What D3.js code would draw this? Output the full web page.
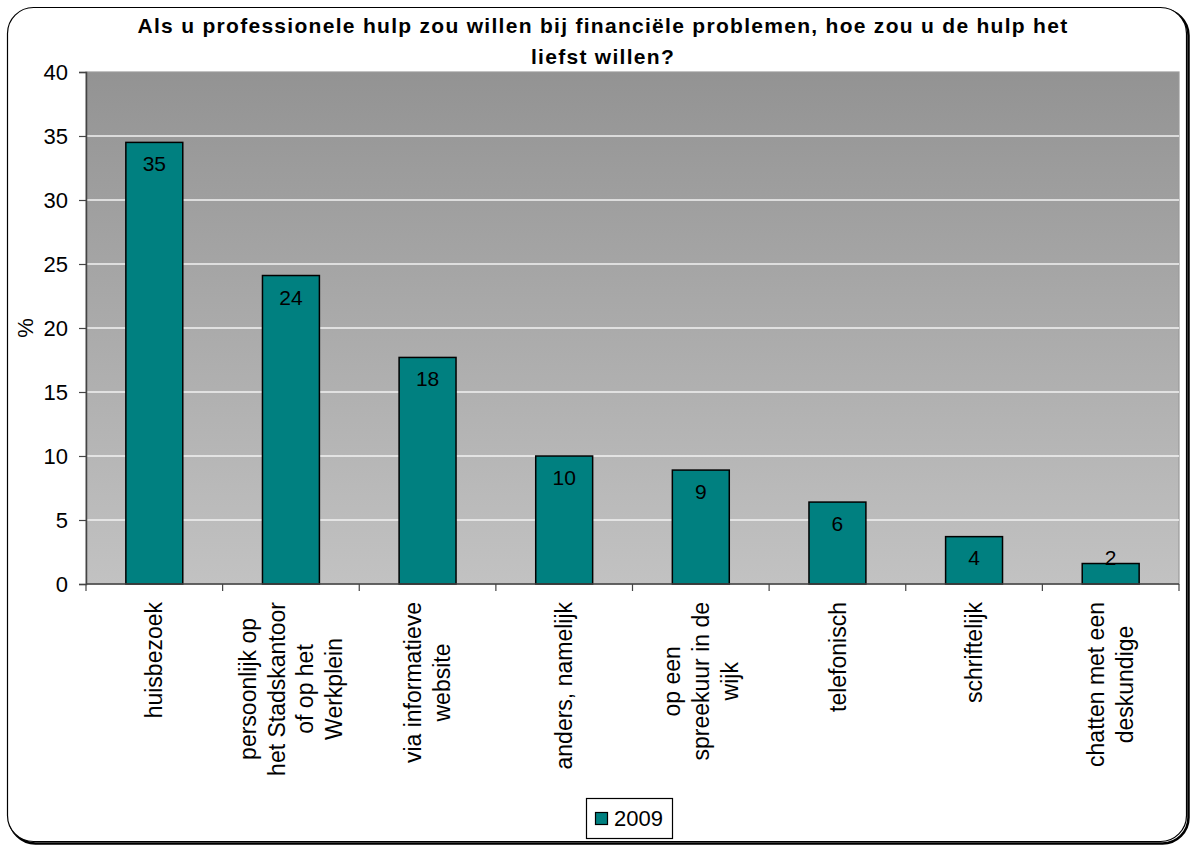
<!DOCTYPE html>
<html>
<head>
<meta charset="utf-8">
<script src="https://cdn.jsdelivr.net/npm/d3@7"></script>
<style>
  body { margin: 0; background: #fff; }
  text { font-family: "Liberation Sans", Arial, sans-serif; fill: #000; }
</style>
</head>
<body>
<div id="chart"></div>
<script>
// data
const categories = [
  "huisbezoek",
  "persoonlijk op\nhet Stadskantoor\nof op het\nWerkplein",
  "via informatieve\nwebsite",
  "anders, namelijk",
  "op een\nspreekuur in de\nwijk",
  "telefonisch",
  "schriftelijk",
  "chatten met een\ndeskundige"
];
const values2009 = [34.5, 24.1, 17.7, 10.0, 8.9, 6.4, 3.7, 1.6];
const yTicks = [0, 5, 10, 15, 20, 25, 30, 35, 40];
const seriesName = "2009";
const titleLines = ["Als u professionele hulp zou willen bij financiële problemen, hoe zou u de hulp het", "liefst willen?"];

const width = 1194, height = 846;
const plot = {left: 86, right: 1179, top: 72, bottom: 584};

let svg = d3.select("#chart")
    .append("svg")
    .attr("width", width)
    .attr("height", height);

// background gradient of plot area
let defs = svg.append("defs");
let grad = defs.append("linearGradient")
    .attr("id", "bg")
    .attr("x1", 0).attr("y1", 0).attr("x2", 0).attr("y2", 1);
grad.append("stop").attr("offset", "0%").attr("stop-color", "#939393");
grad.append("stop").attr("offset", "100%").attr("stop-color", "#c2c2c2");

// outer frame with shadow
svg.append("rect")
    .attr("x", 9.5).attr("y", 9.5)
    .attr("width", 1179).attr("height", 834)
    .attr("rx", 26)
    .attr("fill", "none")
    .attr("stroke", "#000")
    .attr("stroke-width", 2.5);
svg.append("rect")
    .attr("x", 7.5).attr("y", 7.5)
    .attr("width", 1179).attr("height", 834)
    .attr("rx", 26)
    .attr("fill", "#fff")
    .attr("stroke", "#000")
    .attr("stroke-width", 1.2);

let x = d3.scaleBand()
    .domain(categories)
    .range([plot.left, plot.right])
    .paddingInner(0)
    .paddingOuter(0);

let y = d3.scaleLinear()
    .domain([0, 40])
    .range([plot.bottom, plot.top]);

// plot area
svg.append("rect")
    .attr("x", plot.left).attr("y", plot.top)
    .attr("width", plot.right - plot.left)
    .attr("height", plot.bottom - plot.top)
    .attr("fill", "url(#bg)")
    .attr("stroke", "#9a9a9a")
    .attr("stroke-width", 1.2);

// gridlines
svg.append("g")
    .selectAll("line")
    .data(yTicks.filter(d => d > 0 && d < 40))
    .enter()
    .append("line")
    .attr("x1", plot.left).attr("x2", plot.right)
    .attr("y1", d => y(d)).attr("y2", d => y(d))
    .attr("stroke", "#f2f2f2")
    .attr("stroke-width", 1.5);

// bars
let barW = x.bandwidth() / 2.4;
svg.append("g")
    .selectAll("rect")
    .data(values2009)
    .enter()
    .append("rect")
    .attr("x", (d, i) => x(categories[i]) + (x.bandwidth() - barW) / 2)
    .attr("y", d => y(d))
    .attr("width", barW)
    .attr("height", d => y(0) - y(d))
    .attr("fill", "#008080")
    .attr("stroke", "#000")
    .attr("stroke-width", 1.5);

// data labels
svg.append("g")
    .selectAll("text")
    .data(values2009)
    .enter()
    .append("text")
    .attr("x", (d, i) => x(categories[i]) + x.bandwidth() / 2)
    .attr("y", d => Math.min(y(d) + 29, y(0) - 19))
    .style("text-anchor", "middle")
    .style("font-size", "21px")
    .text(d => Math.round(d));

// y axis
let yAxis = svg.append("g")
    .attr("transform", `translate(${plot.left}, 0)`)
    .call(d3.axisLeft(y).tickValues(yTicks).tickSize(7).tickPadding(11));
yAxis.select(".domain").attr("stroke", "#444").attr("stroke-width", 1.5);
yAxis.selectAll(".tick line").attr("stroke", "#444").attr("stroke-width", 1.2);
yAxis.selectAll(".tick text")
    .style("font-size", "22px")
    .style("font-family", "Liberation Sans, Arial, sans-serif")
    .attr("fill", "#000");

// x axis line and tick marks at category boundaries
svg.append("line")
    .attr("x1", plot.left).attr("x2", plot.right)
    .attr("y1", y(0)).attr("y2", y(0))
    .attr("stroke", "#444").attr("stroke-width", 1.5);
svg.append("g")
    .selectAll("line")
    .data(categories.concat(["end"]))
    .enter()
    .append("line")
    .attr("x1", (d, i) => plot.left + i * x.bandwidth())
    .attr("x2", (d, i) => plot.left + i * x.bandwidth())
    .attr("y1", y(0)).attr("y2", y(0) + 7)
    .attr("stroke", "#444").attr("stroke-width", 1.2);

// x labels, rotated, lines centred
let fontX = 23, lineH = 29;
let measure = svg.append("text").style("font-size", fontX + "px");
categories.forEach(function(c) {
    let lines = c.split("\n");
    let maxLen = 0;
    lines.forEach(function(l) {
        measure.text(l);
        maxLen = Math.max(maxLen, measure.node().getComputedTextLength());
    });
    let cx = x(c) + x.bandwidth() / 2;
    let cy = 602 + maxLen / 2;
    let g = svg.append("g").attr("transform", `translate(${cx}, ${cy}) rotate(-90)`);
    lines.forEach(function(l, j) {
        let off = (j - (lines.length - 1) / 2) * lineH;
        g.append("text")
            .attr("x", 0)
            .attr("y", off + fontX * 0.35)
            .style("text-anchor", "middle")
            .style("font-size", fontX + "px")
            .text(l);
    });
});
measure.remove();

// y axis title
svg.append("text")
    .attr("transform", `translate(33, 328) rotate(-90)`)
    .style("text-anchor", "middle")
    .style("font-size", "22px")
    .text("%");

// chart title: spread letters to the width seen in the picture
let titleG = svg.append("g")
    .style("font-size", "21px")
    .style("font-weight", "bold");
let t0 = titleG.append("text").text(titleLines[0]);
let natural = t0.node().getComputedTextLength();
let spacing = (931 - natural) / titleLines[0].length;
t0.remove();
titleG.selectAll("text")
    .data(titleLines)
    .enter()
    .append("text")
    .attr("x", 603)
    .attr("y", (d, i) => 33 + i * 31)
    .style("text-anchor", "middle")
    .style("letter-spacing", spacing + "px")
    .text(d => d);

// legend
let legend = svg.append("g");
legend.append("rect")
    .attr("x", 586.5).attr("y", 798.5)
    .attr("width", 86).attr("height", 40)
    .attr("fill", "#fff")
    .attr("stroke", "#000")
    .attr("stroke-width", 1.2);
legend.append("rect")
    .attr("x", 595.5).attr("y", 812.5)
    .attr("width", 12).attr("height", 12)
    .attr("fill", "#008080")
    .attr("stroke", "#000")
    .attr("stroke-width", 1.2);
legend.append("text")
    .attr("x", 614)
    .attr("y", 826)
    .style("font-size", "22px")
    .text(seriesName);
</script>
</body>
</html>
